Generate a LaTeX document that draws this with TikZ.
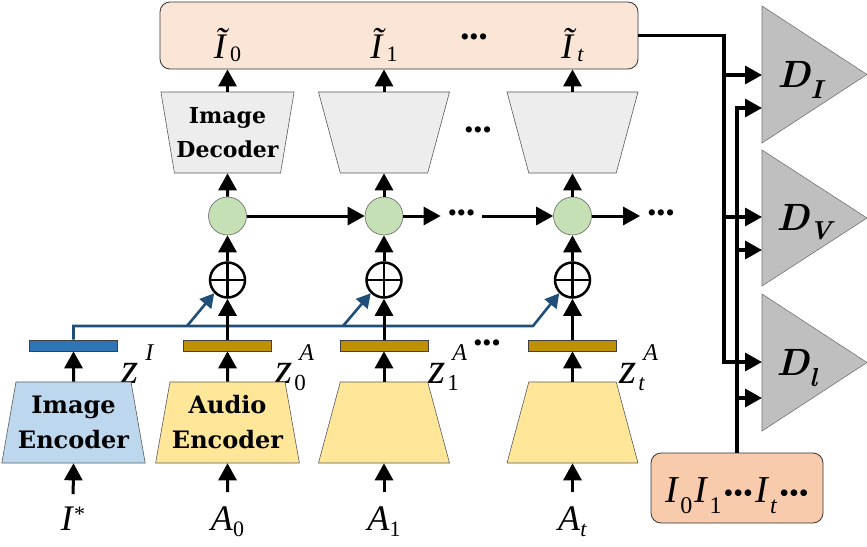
\documentclass[tikz,border=0pt]{standalone}
\usepackage{fontspec}
\setmainfont{Liberation Serif}
\newfontfamily\lmr{Latin Modern Roman}
\newfontfamily\dvs{DejaVu Serif}
\usetikzlibrary{arrows.meta,shapes.geometric}
\definecolor{peachA}{HTML}{FBE5D6}
\definecolor{peachB}{HTML}{F8CBAD}
\definecolor{decfill}{HTML}{EDEDED}
\definecolor{encblue}{HTML}{BDD7EE}
\definecolor{encyel}{HTML}{FFE699}
\definecolor{barblue}{HTML}{2E75B6}
\definecolor{baryel}{HTML}{BF9000}
\definecolor{lineblue}{HTML}{1F4E79}
\definecolor{cellgreen}{HTML}{C5E0B4}
\definecolor{discgray}{HTML}{BFBFBF}
\newcommand{\fs}[1]{\fontsize{#1pt}{#1pt}\selectfont}
\newcommand{\zlab}[2]{{\fs{44}\textit{z}}\rlap{\kern7pt\raisebox{23pt}{\fs{24}\textit{#1}}}\kern2pt\raisebox{-7pt}{\fs{23}#2}}
\begin{document}
\begin{tikzpicture}[x=1pt,y=-1pt,
  arr/.style={line width=3pt,-{Triangle[length=17pt,width=18pt]}},
  rarr/.style={line width=3.4pt,-{Triangle[length=17pt,width=18pt]}},
  blu/.style={line width=2.6pt,draw=lineblue},
  bluarr/.style={blu,-{Triangle[length=14pt,width=15pt]}},
  trap/.style={trapezium,trapezium angle=76,trapezium stretches=true,minimum width=131pt,minimum height=81pt,inner sep=2pt,draw=black!65,line width=0.6pt,align=center},
  enc/.style={trap},
  dec/.style={trap,shape border rotate=180,fill=decfill},
  barbox/.style={rectangle,minimum width=88pt,minimum height=11pt,inner sep=0pt,draw=black!75,line width=0.6pt},
  cell/.style={circle,minimum size=38pt,inner sep=0pt,fill=cellgreen,draw=black!60,line width=0.6pt},
  oplus/.style={circle,minimum size=35pt,inner sep=0pt,draw=black,line width=2.5pt,
    path picture={\draw[line width=2.5pt] (path picture bounding box.north) -- (path picture bounding box.south) (path picture bounding box.west) -- (path picture bounding box.east);}},
  lab/.style={inner sep=0pt,anchor=base},
  dotnode/.style={inner sep=0pt,inner xsep=7pt,font=\fs{26}},
  disc/.style={fill=discgray,draw=black!55,line width=0.6pt},
  bigbox/.style={draw=black!80,rounded corners=10pt,line width=0.8pt,inner sep=0pt},
]
\useasboundingbox (0,0) rectangle (867,546);

% top output box
\node[bigbox,fill=peachA,minimum width=478pt,minimum height=67pt] (top) at (399,35.5) {};
\node[lab] (it0) at (227.5,58) {\fs{36}\textit{Ĩ}\kern1pt\raisebox{-3pt}{\fs{22}0}};
\node[lab] (it1) at (384,58) {\fs{36}\textit{Ĩ}\kern1pt\raisebox{-3pt}{\fs{22}1}};
\node[dotnode] (tdots) at (474,40) {•••};
\node[lab] (it2) at (572.5,58) {\fs{36}\textit{Ĩ}\kern1pt\raisebox{-3pt}{\fs{22}\textit{t}}};

% decoders
\node[dec,font=\dvs\bfseries\fontsize{22pt}{34pt}\selectfont] (d0) at (227.5,132.5) {Image\\Decoder};
\node[dec] (d1) at (384,132.5) {};
\node[dec] (d2) at (572.5,132.5) {};
\node[dotnode] (ddots) at (478,133) {•••};

% recurrent cells
\node[cell] (g0) at (227.5,216) {};
\node[cell] (g1) at (384,216) {};
\node[cell] (g2) at (572.5,216) {};
\node[dotnode] (hdots1) at (461.5,216) {•••};
\node[dotnode] (hdots2) at (661,216) {•••};

% oplus
\node[oplus] (p0) at (227.5,280) {};
\node[oplus] (p1) at (384,280) {};
\node[oplus] (p2) at (572.5,280) {};

% bars
\node[barbox,fill=barblue] (barI) at (73.5,345.5) {};
\node[barbox,fill=baryel] (bar0) at (227.5,345.5) {};
\node[barbox,fill=baryel] (bar1) at (384,345.5) {};
\node[barbox,fill=baryel] (bar2) at (572.5,345.5) {};
\node[dotnode] (zdots) at (487,346) {•••};

% z labels
\node[anchor=base west,inner sep=0pt] (zI) at (121,383) {\zlab{I}{}};
\node[anchor=base west,inner sep=0pt] (z0) at (275,383) {\zlab{A}{0}};
\node[anchor=base west,inner sep=0pt] (z1) at (428,383) {\zlab{A}{1}};
\node[anchor=base west,inner sep=0pt] (z2) at (619,383) {\zlab{A}{\textit{t}}};

% encoders
\node[enc,fill=encblue,font=\dvs\bfseries\fontsize{24pt}{35pt}\selectfont] (encI) at (73.5,422.5) {Image\\Encoder};
\node[enc,fill=encyel,font=\dvs\bfseries\fontsize{24pt}{35pt}\selectfont] (enc0) at (227.5,422.5) {Audio\\Encoder};
\node[enc,fill=encyel] (enc1) at (384,422.5) {};
\node[enc,fill=encyel] (enc2) at (572.5,422.5) {};

% inputs
\node[lab] (inI) at (73,530) {\fs{36}\textit{I}\raisebox{9pt}{\fs{22}*}};
\node[lab] (inA0) at (227.5,530) {\fs{36}\textit{A}\raisebox{-6pt}{\fs{22}0}};
\node[lab] (inA1) at (384,530) {\fs{36}\textit{A}\raisebox{-6pt}{\fs{22}1}};
\node[lab] (inA2) at (572.5,530) {\fs{36}\textit{A}\raisebox{-6pt}{\fs{22}\textit{t}}};

% blue image-code line
\coordinate (bj0) at (187,326);
\coordinate (bj1) at (343,326);
\coordinate (bj2) at (533,326);
\draw[bluarr] (barI.north) |- (bj2) -- (p2.south west);
\draw[bluarr] (bj0) -- (p0.south west);
\draw[bluarr] (bj1) -- (p1.south west);

% vertical arrows
\foreach \e/\b/\p/\g/\d/\i in {enc0/bar0/p0/g0/d0/inA0, enc1/bar1/p1/g1/d1/inA1, enc2/bar2/p2/g2/d2/inA2}{
  \draw[arr,shorten <=14pt] (\i.north) -- (\e.south);
  \draw[arr] (\e) -- (\b);
  \draw[arr] (\b) -- (\p);
  \draw[arr] (\p) -- (\g);
  \draw[arr] (\g) -- (\d);
  \draw[arr] (\d.north) -- (\d.north |- top.south);
}
\draw[arr,shorten <=12pt] (inI.north) -- (encI.south);
\draw[arr] (encI) -- (barI);

% horizontal recurrent arrows
\draw[arr] (g0) -- (g1);
\draw[arr] (g1) -- (hdots1);
\draw[arr] (hdots1) -- (g2);
\draw[arr] (g2) -- (hdots2);

% discriminators
\draw[disc] (762,6) -- (867,74.5) -- (762,143) -- cycle;
\draw[disc] (762,150) -- (867,218) -- (762,286) -- cycle;
\draw[disc] (762,294) -- (867,362.5) -- (762,431) -- cycle;
\node[anchor=base west,inner sep=0pt] (DI) at (777,87) {\lmr\bfseries\itshape\fs{38}D\raisebox{-11pt}{\fs{26}I}};
\node[anchor=base west,inner sep=0pt] (DV) at (776,230.5) {\lmr\bfseries\itshape\fs{38}D\raisebox{-9pt}{\fs{26}V}};
\node[anchor=base west,inner sep=0pt] (Dl) at (776,375) {\lmr\bfseries\itshape\fs{38}D\raisebox{-11pt}{\fs{26}l}};

% ground-truth box
\node[bigbox,fill=peachB,minimum width=172pt,minimum height=70pt] (bot) at (737,488) {};
\node[lab] (botlab) at (737,502) {\fs{38}\textit{I}\kern1pt\raisebox{-11pt}{\fs{24}0}\kern2pt\textit{I}\kern1pt\raisebox{-11pt}{\fs{24}1}\kern2pt{\fs{28}•••}\kern2pt\textit{I}\kern1pt\raisebox{-11pt}{\fs{24}\textit{t}}\kern2pt{\fs{28}•••}};

% connections to discriminators
\coordinate (aI) at (762,75);
\coordinate (aV) at (762,217);
\coordinate (al) at (762,362);
\coordinate (bI) at (762,108);
\coordinate (bV) at (762,250);
\coordinate (bl) at (762,398);
\coordinate (kA) at (724,362);
\draw[rarr] (top.east) -| (kA) -- (al);
\draw[rarr] (aI -| kA) -- (aI);
\draw[rarr] (aV -| kA) -- (aV);
\draw[rarr] (bot.north) |- (bI);
\draw[rarr] (bV -| bot.north) -- (bV);
\draw[rarr] (bl -| bot.north) -- (bl);
\end{tikzpicture}
\end{document}
